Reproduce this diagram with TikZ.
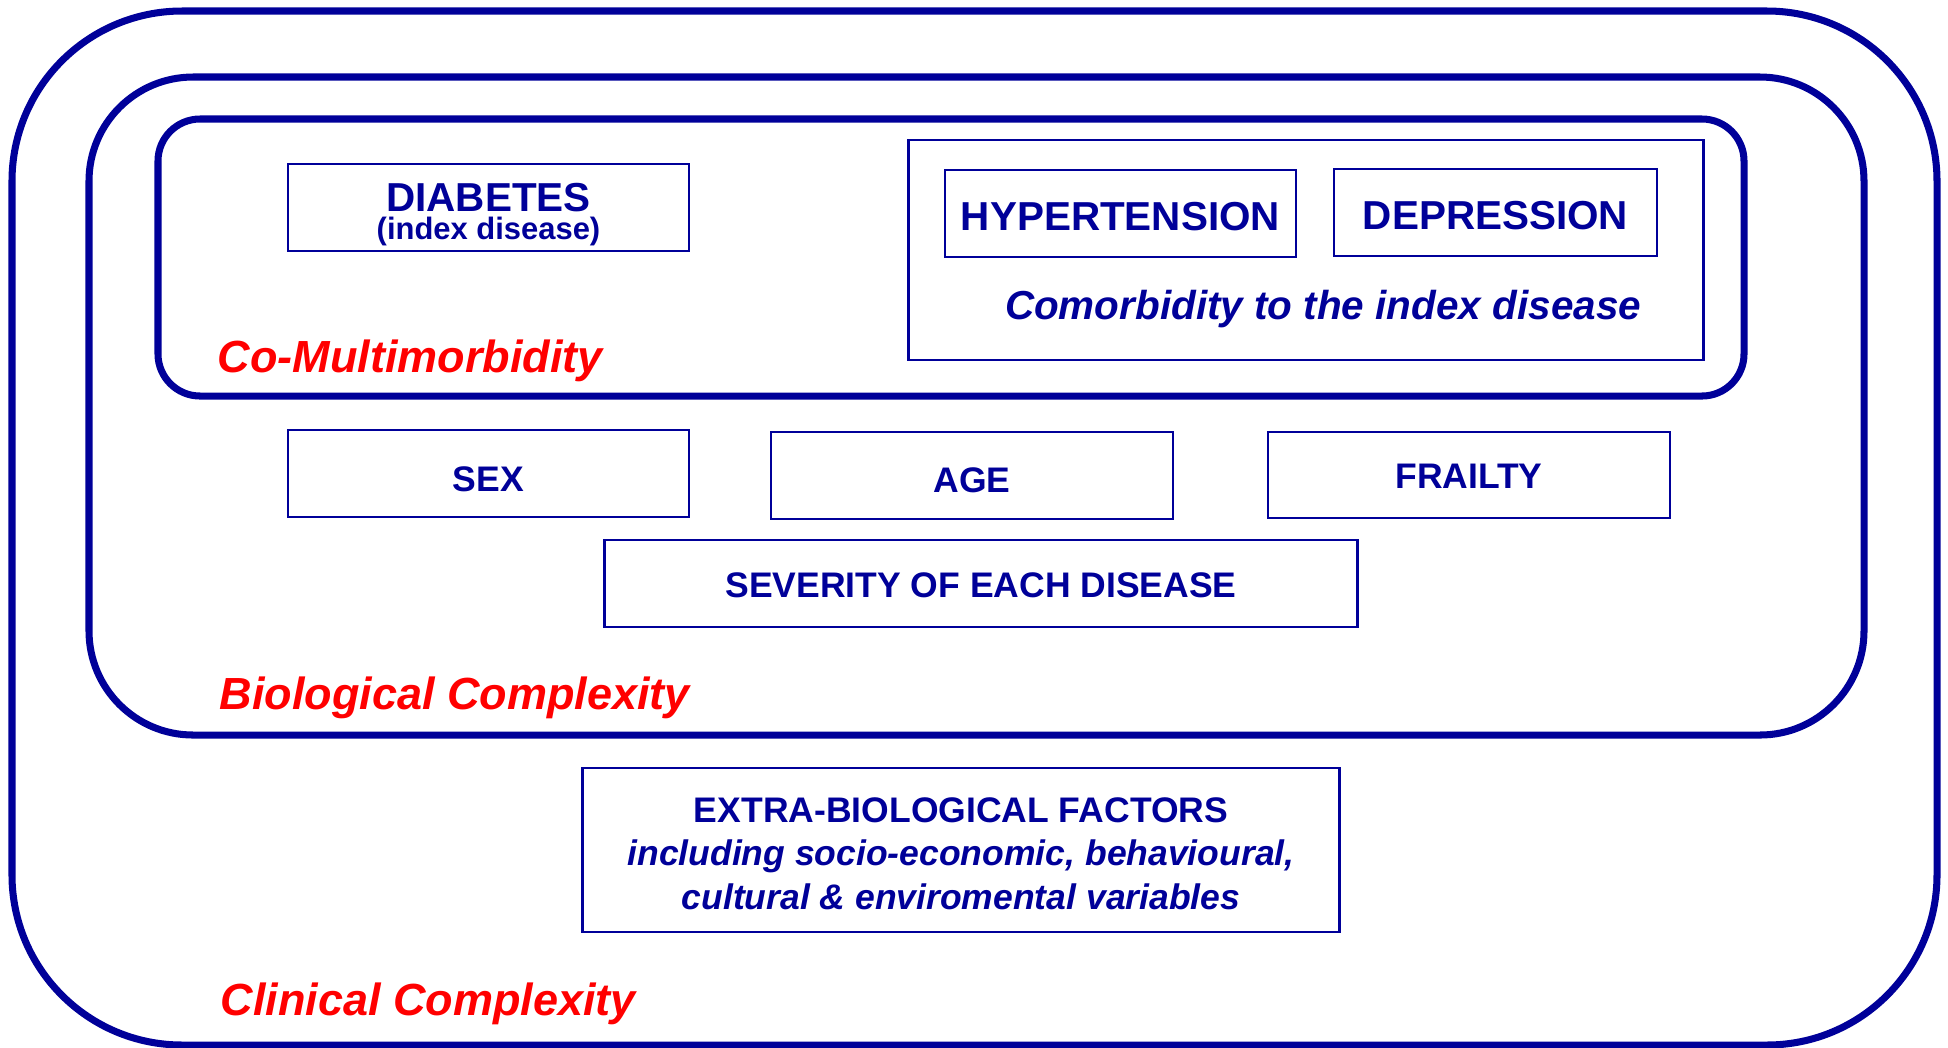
\documentclass[tikz,border=0pt]{standalone}
\usepackage{fontspec}
\setmainfont{Liberation Sans}
\usepackage{tikz}
\definecolor{navy}{RGB}{0,0,153}
\definecolor{lblred}{RGB}{255,0,0}
\tikzstyle{frame}=[draw=navy,line width=2pt]
\tikzstyle{box}=[draw=navy,line width=0.75pt,text=navy,inner sep=0,align=center,
                 text depth=0pt,font=\bfseries\fontsize{10.1}{12.4}\selectfont]
\tikzstyle{bigbox}=[box,font=\bfseries\fontsize{11.5}{8}\selectfont]
\tikzstyle{lbl}=[text=lblred,anchor=base west,inner sep=0,
                 font=\bfseries\itshape\fontsize{12.8}{15}\selectfont]

\begin{document}
\begin{tikzpicture}[x=0.01cm,y=-0.01cm]
\useasboundingbox (0,0) rectangle (1948,1047);
% nested frames
\draw[frame,rounded corners=1.7cm] (12,11) rectangle (1937,1045);
\draw[frame,rounded corners=1.04cm] (89,77) rectangle (1864,735);
\draw[frame,rounded corners=0.42cm] (158,119) rectangle (1744,396);
% co-multimorbidity
\node (diab) at (488.5,207.5)[bigbox,text height=20.4pt,text depth=2pt,minimum width=4.01cm,minimum height=0.87cm]
  {DIABETES\\{\fontsize{8.8}{9}\selectfont(index disease)}};
\node (comor) at (1306,250)[box,minimum width=7.94cm,minimum height=2.2cm]{};
\node (hyper) at (1120.5,213.5)[bigbox,text height=9.8pt,minimum width=3.51cm,minimum height=0.87cm]{HYPERTENSION};
\node (depr) at (1495.5,212.5)[bigbox,text height=9.8pt,minimum width=3.23cm,minimum height=0.87cm]{DEPRESSION};
\node (comtext) at (1323,309)[text=navy,inner sep=0,
  font=\bfseries\itshape\fontsize{11.5}{13}\selectfont]{Comorbidity to the index disease};
\node (comulti) at (217,372)[lbl]{Co-Multimorbidity};
% biological
\node (sex) at (488.5,473.5)[box,text height=10.15pt,minimum width=4.01cm,minimum height=0.87cm]{SEX};
\node (age) at (972,475.5)[box,text height=9.45pt,minimum width=4.02cm,minimum height=0.87cm]{AGE};
\node (frail) at (1469,475)[box,text height=7.65pt,minimum width=4.02cm,minimum height=0.86cm]{FRAILTY};
\node (sev) at (981,583.5)[box,text height=8.05pt,minimum width=7.52cm,minimum height=0.87cm]{SEVERITY OF EACH DISEASE};
\node (biol) at (219,709.5)[lbl]{Biological Complexity};
% clinical
\node (extra) at (961,850)[box,text height=33.85pt,minimum width=7.56cm,minimum height=1.64cm]
  {EXTRA-BIOLOGICAL FACTORS\\
   \itshape including socio-economic, behavioural,\\
   \itshape cultural \& enviromental variables};
\node (clin) at (220,1015.5)[lbl]{Clinical Complexity};
\end{tikzpicture}
\end{document}
